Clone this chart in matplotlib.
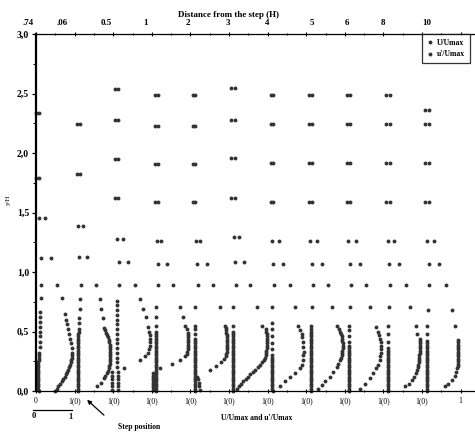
import matplotlib.pyplot as plt
from matplotlib.lines import Line2D

# stations (distance from the step, in step heights) and where their labels sit on the top axis
station_labels = ['.74', '.06', '0.5', '1', '2', '3', '4', '5', '6', '8', '10']
label_pos = [-0.21, 0.67, 1.81, 2.85, 3.94, 4.97, 5.98, 7.15, 8.06, 9.0, 10.13]

# heights of the dense near-wall probe runs (y/H)
y_wall = [0.00, 0.02, 0.04, 0.06, 0.08, 0.10, 0.12, 0.14, 0.16, 0.18, 0.20, 0.22, 0.24, 0.26,
          0.28, 0.30, 0.32, 0.34, 0.36, 0.38, 0.40, 0.42, 0.44, 0.46, 0.48, 0.50, 0.52]

# u'/Umax, dense near-wall part (read against y_wall)
turb_wall = [
    [.07, .06, .06, .06, .06, .06, .06, .06, .06, .06, .06, .06, .06, .07, .07, .07, .08],
    [.10, .10, .10, .09, .09, .10, .10, .10, .10, .10, .10, .10, .10, .10, .10, .10, .10, .10,
     .10, .10, .10, .10, .10, .10, .10, .11, .11],
    [],
    [.12, .12, .12, .11, .11, .11, .11, .11, .11, .11, .11, .11, .11, .11, .11, .11, .11, .11,
     .11, .11, .11, .11, .11, .11, .11, .11],
    [.13, .12, .12, .12, .12, .12, .12, .12, .12, .12, .12, .12, .12, .12, .12, .12, .12, .12,
     .12, .12, .12, .12, .12],
    [.11, .11, .11, .11, .11, .11, .11, .11, .11, .11, .11, .11, .11, .11, .11, .11, .11, .11,
     .11, .11, .11, .11, .11, .11, .11, .11],
    [.13, .12, .12, .12, .12, .12, .12, .12, .12, .12, .12, .12, .12, .12, .12, .12],
    [.13, .13, .13, .13, .13, .13, .13, .13, .13, .13, .13, .13, .13, .13, .13, .13, .13, .13,
     .13, .13, .13, .13, .13, .13, .13, .13, .13],
    [.12, .12, .12, .12, .12, .12, .12, .12, .12, .12, .12, .12, .12, .12, .12, .12, .12, .12,
     .12, .12],
    [.12, .12, .12, .12, .12, .12, .12, .12, .12, .12, .12, .12, .12, .12, .12, .12, .12, .12,
     .12],
    [.12, .12, .12, .12, .12, .12, .12, .12, .12, .12, .12, .12, .12, .12, .12, .12, .12, .12,
     .12, .12, .12, .12],
]

# u'/Umax, outer points
turb_y = [
    [.37, .41, .46, .50, .54, .58, .62, .66, .78, .89, 1.12, 1.45, 1.79, 2.34],
    [.57, .61, .69, .77, .89, 1.13, 1.39, 1.82, 2.24],
    [.01, .04, .07, .10, .13, .16, .20, .24, .28, .32, .36, .40, .44, .48, .52, .56, .60, .64,
     .68, .72, .76, .89, 1.08, 1.28, 1.62, 1.95, 2.28, 2.54],
    [.55, .62, .71, .89, 1.07, 1.26, 1.59, 1.91, 2.23, 2.49],
    [.48, .52, .55, .71, .89, 1.07, 1.26, 1.59, 1.91, 2.23, 2.49],
    [.55, .71, .89, 1.08, 1.29, 1.62, 1.96, 2.28, 2.55],
    [.35, .40, .46, .52, .57, .71, .89, 1.07, 1.26, 1.59, 1.92, 2.24, 2.49],
    [.55, .71, .89, 1.07, 1.26, 1.59, 1.92, 2.24, 2.49],
    [.41, .46, .51, .55, .71, .89, 1.07, 1.26, 1.59, 1.92, 2.24, 2.49],
    [.41, .48, .55, .71, .89, 1.07, 1.26, 1.59, 1.92, 2.24, 2.49],
    [.48, .55, .68, .89, 1.07, 1.26, 1.59, 1.92, 2.24, 2.36],
]
turb_v = [
    [.10, .10, .10, .10, .10, .10, .10, .11, .13, .12, .12, .08, .01, .01],
    [.12, .12, .13, .14, .16, .12, .09, .05, .05],
    [.12, .12, .12, .12, .12, .12, .11, .11, .11, .11, .11, .11, .11, .11, .11, .11, .11, .11,
     .11, .11, .11, .15, .14, .11, .05, .05, .05, .05],
    [.10, .10, .10, .17, .15, .13, .07, .07, .07, .07],
    [.12, .12, .12, .12, .19, .16, .15, .07, .07, .07, .07],
    [.11, .10, .18, .16, .13, .06, .06, .06, .06],
    [.12, .12, .12, .12, .12, .11, .17, .15, .11, .08, .08, .08, .08],
    [.13, .14, .17, .14, .10, .06, .06, .06, .06],
    [.12, .12, .12, .12, .13, .16, .13, .09, .06, .06, .06, .06],
    [.12, .12, .12, .15, .17, .15, .11, .08, .08, .08, .08],
    [.12, .12, .16, .18, .18, .12, .09, .09, .09, .09],
]

# U/Umax profiles
mean_y = [
    [0, .02, .04, .06, .08, .10, .12, .14, .16, .18, .20, .22, .24, .26, .28, .30, .32, .36, .40,
     .44, .48, .52, .56, .60, .65, .78, .89, 1.12, 1.45, 1.79, 2.34],
    [.04, .07, .11, .13, .15, .17, .19, .21, .23, .25, .27, .29, .31, .33, .35, .37, .39, .41, .43,
     .45, .47, .49, .51, .53, .61, .69, .77, .89, 1.13, 1.39, 1.82, 2.24],
    [.01, .04, .07, .10, .13, .16, .19, .26, .29, .32, .35, .38, .41, .44, .47, .50, .54, .62, .69,
     .77, .89, 1.08, 1.28, 1.62, 1.95, 2.28, 2.54],
    [.01, .03, .05, .07, .09, .11, .13, .15, .19, .23, .26, .29, .31, .33, .35, .37, .39, .41, .43,
     .45, .47, .49, .52, .55, .62, .71, .89, 1.07, 1.26, 1.59, 1.91, 2.23, 2.49],
    [.01, .04, .07, .10, .12, .18, .21, .24, .27, .29, .31, .33, .35, .37, .39, .41, .43, .45, .47,
     .49, .51, .53, .55, .71, .89, 1.07, 1.26, 1.59, 1.91, 2.23, 2.49],
    [.02, .04, .06, .08, .10, .12, .14, .16, .18, .20, .22, .24, .26, .28, .30, .32, .34, .36, .38,
     .40, .42, .44, .46, .48, .50, .52, .55, .71, .89, 1.08, 1.29, 1.62, 1.96, 2.28, 2.55],
    [.04, .08, .12, .15, .19, .22, .26, .30, .33, .37, .41, .45, .48, .51, .55, .71, .89, 1.07,
     1.26, 1.59, 1.92, 2.24, 2.49],
    [.02, .05, .08, .12, .16, .20, .23, .26, .28, .30, .32, .34, .36, .38, .40, .42, .44, .46, .48,
     .50, .52, .55, .71, .89, 1.07, 1.26, 1.59, 1.92, 2.24, 2.49],
    [.02, .06, .11, .15, .19, .22, .26, .29, .32, .35, .38, .41, .44, .47, .50, .54, .71, .89, 1.07,
     1.26, 1.59, 1.92, 2.24, 2.49],
    [.04, .06, .09, .12, .15, .18, .20, .22, .24, .26, .28, .30, .32, .34, .36, .38, .40, .42, .44,
     .48, .55, .71, .89, 1.07, 1.26, 1.59, 1.92, 2.24, 2.49],
    [.04, .06, .09, .13, .16, .19, .21, .23, .25, .27, .29, .31, .33, .35, .37, .39, .41, .43, .55,
     .68, .89, 1.07, 1.26, 1.59, 1.92, 2.24, 2.36],
]
mean_v = [
    [.49, .54, .58, .63, .67, .71, .75, .78, .81, .84, .86, .88, .90, .91, .92, .93, .93, .92, .91,
     .89, .86, .83, .80, .77, .74, .67, .54, .38, .23, .09, .09],
    [.57, .68, .76, .79, .83, .86, .88, .90, .91, .92, .93, .93, .93, .93, .92, .92, .91, .89, .88,
     .86, .84, .82, .79, .76, .73, .68, .65, .55, .33, .22, .14, .14],
    [-.02, -.02, -.02, -.02, -.02, -.02, .28, .70, .83, .90, .93, .95, .95, .95, .95, .94, .91, .86,
     .78, .69, .57, .38, .25, .13, .13, .13, .13],
    [.02, .03, .03, .02, .03, .04, .03, .04, .21, .52, .73, .86, .90, .92, .93, .94, .94, .95, .95,
     .95, .94, .93, .90, .86, .80, .73, .56, .39, .25, .15, .15, .15, .15],
    [.25, .23, .21, .19, .17, .51, .66, .80, .88, .91, .93, .94, .94, .95, .95, .95, .95, .95, .94,
     .93, .92, .91, .90, .77, .59, .42, .26, .13, .13, .13, .13],
    [.22, .27, .32, .37, .43, .48, .54, .61, .68, .75, .81, .86, .90, .93, .95, .96, .97, .98, .98,
     .99, .99, .99, .99, .98, .97, .96, .85, .72, .54, .40, .27, .16, .16, .16, .16],
    [.32, .45, .58, .71, .84, .89, .92, .93, .94, .93, .92, .90, .88, .85, .79, .71, .58, .41, .30,
     .15, .15, .15, .15],
    [.31, .40, .49, .61, .70, .79, .83, .87, .90, .92, .93, .94, .95, .95, .95, .94, .93, .92, .90,
     .88, .85, .80, .66, .56, .40, .29, .14, .14, .14, .14],
    [.39, .52, .65, .74, .82, .87, .90, .92, .94, .95, .95, .94, .92, .89, .86, .82, .65, .54, .39,
     .28, .13, .13, .13, .13],
    [.56, .66, .74, .80, .84, .87, .89, .90, .91, .92, .93, .93, .94, .94, .95, .95, .95, .95, .94,
     .88, .85, .69, .58, .41, .28, .16, .16, .16, .16],
    [.60, .68, .77, .85, .89, .91, .93, .93, .94, .94, .94, .94, .94, .94, .94, .94, .94, .94, .85,
     .77, .61, .45, .32, .17, .17, .17, .17],
]

bottom_labels = ['0'] + ['1(0)'] * 10 + ['1']
y_ticks = [0.0, 0.5, 1.0, 1.5, 2.0, 2.5, 3.0]
y_tick_labels = ['0,0', '0,5', '1,0', '1,5', '2,0', '2,5', '3,0']

serif = 'Liberation Serif'
dot = '#333333'
ms = 2.8

fig = plt.figure(figsize=(4.75, 4.32), dpi=100)
# axes run past the right edge of the figure, as on the printed page
ax = fig.add_axes([36 / 475, 41 / 432, 12 * 38.6 / 475, 357 / 432])
ax.set_xlim(0, 12)
ax.set_ylim(0, 3)

for k in range(len(station_labels)):
    ty = y_wall[:len(turb_wall[k])] + turb_y[k]
    tv = turb_wall[k] + turb_v[k]
    ax.plot([k + v for v in tv], ty, 'o', ms=ms, mew=0, color=dot, clip_on=False)
    ax.plot([k + v for v in mean_v[k]], mean_y[k], 'o', ms=ms, mew=0, color=dot, clip_on=False)

# spines and ticks
ax.spines['left'].set_linewidth(1.6)
ax.spines['bottom'].set_linewidth(0.9)
ax.spines['top'].set_linewidth(0.9)
ax.spines['right'].set_visible(False)

ax.set_yticks(y_ticks)
ax.set_yticklabels(y_tick_labels, fontfamily=serif, fontweight='bold', fontsize=7)
ax.set_yticks([0.25, 0.75, 1.25, 1.75, 2.25, 2.75], minor=True)
ax.tick_params(axis='y', which='major', direction='out', length=3, width=0.9, pad=2)
ax.tick_params(axis='y', which='minor', direction='out', length=2, width=0.7)

ax.set_xticks(range(12))
ax.set_xticklabels(bottom_labels, fontfamily=serif, fontsize=5.5)
ax.set_xticks([k + 0.5 for k in range(12)], minor=True)
ax.tick_params(axis='x', which='both', bottom=True, top=True, direction='inout',
               length=3, width=0.8, pad=3)
ax.tick_params(axis='x', which='minor', length=2)

for lab, xp in zip(station_labels, label_pos):
    ax.text(xp, 3.06, lab, ha='center', va='bottom', fontsize=6.5, fontfamily=serif,
            fontweight='bold', clip_on=False)

fig.text(229 / 475, 1 - 15 / 432, 'Distance from the step (H)', ha='center', va='center',
         fontsize=6.5, fontfamily=serif, fontweight='bold')
fig.text(8 / 475, 1 - 200 / 432, 'y/H', rotation=90, ha='center', va='center',
         fontsize=5, fontfamily=serif)
fig.text(257 / 475, 1 - 418 / 432, "U/Umax and u'/Umax", ha='center', va='center',
         fontsize=5.5, fontfamily=serif, fontweight='bold')

# unit scale bar under the first profile
fig.add_artist(Line2D([33 / 475, 72 / 475], [1 - 410 / 432, 1 - 410 / 432],
                      color='black', lw=0.9))
fig.text(34 / 475, 1 - 416 / 432, '0', ha='center', va='center', fontsize=6,
         fontfamily=serif, fontweight='bold')
fig.text(70 / 475, 1 - 417 / 432, '1', ha='center', va='center', fontsize=6,
         fontfamily=serif, fontweight='bold')

# step position pointer
ax.annotate('', xy=(85 / 475, 1 - 398 / 432), xycoords='figure fraction',
            xytext=(106 / 475, 1 - 417 / 432), textcoords='figure fraction',
            arrowprops=dict(arrowstyle='-|>', lw=0.9, color='black', mutation_scale=6))
fig.text(118 / 475, 1 - 427 / 432, 'Step position', ha='left', va='center', fontsize=5.5,
         fontfamily=serif, fontweight='bold')

handles = [Line2D([], [], ls='none', marker='o', ms=ms, mew=0, color=dot),
           Line2D([], [], ls='none', marker='o', ms=ms, mew=0, color=dot)]
leg = fig.legend(handles, ['U/Umax', "u'/Umax"], loc='upper left',
                 bbox_to_anchor=(422 / 475, 1 - 34 / 432), bbox_transform=fig.transFigure,
                 frameon=True, fancybox=False, edgecolor='black',
                 handlelength=0.8, handletextpad=0.6, borderpad=0.6, labelspacing=0.5,
                 borderaxespad=0, prop={'family': serif, 'size': 5.5, 'weight': 'bold'})
leg.get_frame().set_linewidth(0.9)

fig.savefig('out.png', dpi=100)
